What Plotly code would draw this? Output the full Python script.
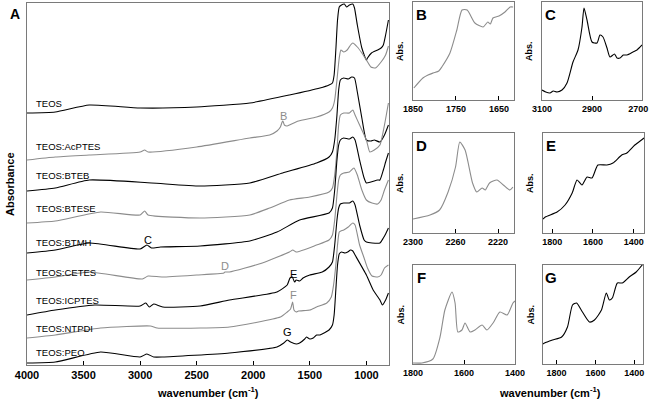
import plotly.graph_objects as go

# ---------------- main panel data (arbitrary absorbance, offset stacked) ----------------
teos_wn = [4000, 3750, 3450, 3000, 2500, 2030, 1680, 1410, 1330, 1300, 1285, 1270, 1255, 1240, 1220, 1195, 1175, 1150, 1120, 1105, 1080, 1040, 1000, 990, 955, 900, 870, 850, 830, 805]
teos_ab = [2.52, 2.53, 2.60, 2.57, 2.58, 2.62, 2.70, 2.77, 2.80, 2.82, 2.90, 3.15, 3.45, 3.58, 3.60, 3.61, 3.58, 3.60, 3.61, 3.57, 3.40, 3.17, 3.05, 3.07, 3.12, 3.15, 3.17, 3.20, 3.30, 3.45]

acptes_wn = [4000, 3750, 3450, 3000, 2960, 2930, 2500, 2030, 1855, 1790, 1760, 1745, 1738, 1725, 1700, 1680, 1600, 1440, 1330, 1300, 1280, 1260, 1240, 1225, 1200, 1170, 1140, 1120, 1080, 1040, 1000, 960, 920, 870, 830, 805]
acptes_ab = [2.05, 2.08, 2.10, 2.13, 2.15, 2.13, 2.18, 2.27, 2.30, 2.34, 2.38, 2.43, 2.44, 2.40, 2.39, 2.40, 2.44, 2.48, 2.53, 2.57, 2.65, 2.85, 3.07, 3.15, 3.13, 3.15, 3.20, 3.22, 3.18, 3.12, 3.05, 2.98, 2.97, 3.03, 3.10, 3.19]

bteb_wn = [4000, 3750, 3450, 2900, 2470, 2030, 1740, 1440, 1330, 1300, 1280, 1260, 1245, 1230, 1200, 1160, 1130, 1105, 1080, 1040, 1000, 960, 930, 880, 840, 805]
bteb_ab = [1.74, 1.77, 1.85, 1.82, 1.79, 1.82, 1.92, 2.02, 2.08, 2.13, 2.25, 2.50, 2.75, 2.85, 2.87, 2.86, 2.88, 2.87, 2.73, 2.47, 2.25, 2.24, 2.25, 2.23, 2.30, 2.40]

btese_wn = [4000, 3750, 3350, 3000, 2960, 2930, 2470, 2030, 1855, 1680, 1500, 1330, 1300, 1280, 1260, 1245, 1230, 1200, 1150, 1120, 1100, 1060, 1000, 970, 930, 880, 840, 805]
btese_ab = [1.42, 1.44, 1.53, 1.50, 1.54, 1.50, 1.47, 1.50, 1.57, 1.65, 1.68, 1.73, 1.77, 1.90, 2.15, 2.40, 2.50, 2.52, 2.52, 2.55, 2.50, 2.40, 2.25, 2.13, 2.15, 2.20, 2.40, 2.62]

btmh_wn = [4000, 3750, 3450, 3000, 2940, 2900, 2820, 2470, 2030, 1790, 1590, 1330, 1300, 1280, 1260, 1245, 1230, 1200, 1150, 1120, 1100, 1060, 1020, 1000, 960, 900, 880, 850, 830, 805]
btmh_ab = [1.12, 1.15, 1.22, 1.16, 1.20, 1.17, 1.18, 1.19, 1.24, 1.33, 1.45, 1.52, 1.57, 1.75, 2.05, 2.20, 2.25, 2.27, 2.26, 2.28, 2.25, 2.05, 1.87, 1.82, 1.83, 1.85, 1.85, 1.95, 2.03, 2.12]

cetes_wn = [4000, 3750, 3450, 2980, 2930, 2800, 2500, 2260, 2250, 2210, 1920, 1680, 1650, 1620, 1440, 1330, 1300, 1280, 1260, 1245, 1230, 1200, 1150, 1110, 1080, 1040, 1000, 950, 900, 870, 840, 805]
cetes_ab = [0.85, 0.88, 0.93, 0.86, 0.89, 0.88, 0.90, 0.92, 0.93, 0.93, 1.02, 1.13, 1.15, 1.13, 1.20, 1.25, 1.30, 1.45, 1.70, 1.85, 1.90, 1.92, 1.93, 1.97, 1.90, 1.75, 1.65, 1.62, 1.61, 1.65, 1.75, 1.85]

icptes_wn = [4000, 3750, 3400, 3000, 2950, 2920, 2880, 2800, 2470, 2210, 1790, 1700, 1675, 1655, 1635, 1620, 1590, 1560, 1500, 1390, 1330, 1300, 1280, 1260, 1245, 1230, 1200, 1150, 1120, 1100, 1060, 1020, 1000, 950, 880, 850, 830, 805]
icptes_ab = [0.50, 0.55, 0.60, 0.59, 0.62, 0.58, 0.61, 0.58, 0.59, 0.65, 0.73, 0.80, 0.87, 0.88, 0.83, 0.85, 0.84, 0.87, 0.90, 0.93, 0.98, 1.03, 1.20, 1.45, 1.57, 1.61, 1.62, 1.62, 1.64, 1.60, 1.40, 1.25, 1.23, 1.22, 1.22, 1.27, 1.31, 1.37]

ntpdi_wn = [4000, 3750, 3350, 2910, 2850, 2470, 2210, 1760, 1700, 1670, 1652, 1640, 1620, 1600, 1500, 1440, 1350, 1310, 1290, 1270, 1255, 1240, 1225, 1200, 1160, 1120, 1100, 1060, 1020, 990, 950, 900, 870, 840, 805]
ntpdi_ab = [0.27, 0.30, 0.37, 0.39, 0.37, 0.37, 0.38, 0.48, 0.53, 0.56, 0.63, 0.55, 0.53, 0.54, 0.55, 0.58, 0.62, 0.68, 0.80, 1.00, 1.20, 1.33, 1.34, 1.35, 1.38, 1.42, 1.40, 1.20, 1.07, 0.97, 0.89, 0.88, 0.90, 0.97, 1.00]

peo_wn = [4000, 3750, 3350, 3000, 2940, 2880, 2800, 2210, 1790, 1730, 1700, 1670, 1620, 1590, 1545, 1530, 1500, 1470, 1440, 1410, 1330, 1300, 1285, 1270, 1255, 1240, 1220, 1190, 1165, 1140, 1120, 1100, 1000, 940, 880, 858, 830, 805]
peo_ab = [0.02, 0.03, 0.13, 0.08, 0.11, 0.08, 0.08, 0.12, 0.18, 0.22, 0.25, 0.23, 0.21, 0.22, 0.26, 0.28, 0.26, 0.27, 0.30, 0.30, 0.35, 0.40, 0.50, 0.75, 1.00, 1.11, 1.13, 1.12, 1.13, 1.15, 1.14, 1.10, 0.90, 0.75, 0.65, 0.60, 0.65, 0.72]

sample_names = ["TEOS", "TEOS:AcPTES", "TEOS:BTEB", "TEOS:BTESE", "TEOS:BTMH",
                "TEOS:CETES", "TEOS:ICPTES", "TEOS:NTPDI", "TEOS:PEO"]

# ---------------- inset data ----------------
b_wn = [1848, 1827, 1815, 1803, 1790, 1783, 1764, 1748, 1736, 1724, 1706, 1687, 1676, 1670, 1664, 1650, 1636, 1624, 1617]
b_ab = [12, 22, 25, 27, 29, 33, 47, 70, 90, 90, 77, 73, 78, 76, 82, 84, 88, 93, 93]

c_wn = [3100, 3085, 3068, 3055, 3040, 3020, 3000, 2976, 2956, 2940, 2932, 2920, 2900, 2880, 2868, 2856, 2840, 2828, 2810, 2800, 2788, 2775, 2760, 2736, 2720, 2700]
c_ab = [10, 8, 7, 9, 8, 10, 17, 38, 50, 73, 92, 80, 58, 57, 65, 63, 52, 43, 46, 42, 42, 45, 45, 48, 50, 55]

d_wn = [2300, 2284, 2275, 2267, 2260, 2256, 2251, 2244, 2240, 2235, 2232, 2228, 2221, 2215, 2209, 2206]
d_ab = [14, 18, 23, 41, 66, 91, 83, 50, 41, 45, 43, 50, 53, 48, 43, 46]

e_wn = [1845, 1834, 1776, 1737, 1702, 1678, 1654, 1629, 1605, 1576, 1532, 1502, 1459, 1434, 1395, 1356, 1350]
e_ab = [14, 16, 21, 28, 40, 53, 48, 56, 55, 68, 68, 70, 78, 80, 88, 94, 95]

f_wn = [1800, 1765, 1722, 1694, 1675, 1647, 1635, 1624, 1608, 1596, 1576, 1557, 1529, 1510, 1486, 1459, 1431, 1408, 1400]
f_ab = [1, 1, 5, 27, 54, 72, 61, 32, 34, 41, 32, 34, 39, 34, 41, 52, 49, 61, 63]

g_wn = [1870, 1862, 1821, 1774, 1744, 1718, 1697, 1667, 1631, 1605, 1569, 1544, 1528, 1513, 1487, 1462, 1426, 1390, 1359, 1355]
g_ab = [20, 21, 24, 27, 37, 59, 61, 52, 42, 44, 54, 71, 64, 66, 81, 81, 87, 92, 99, 100]

main_ticks = [4000, 3500, 3000, 2500, 2000, 1500, 1000]

# ---------------- figure geometry ----------------
W, H = 651, 400
FONT = "Liberation Sans, Arial, Helvetica, sans-serif"
BLACK = "#000000"
GRAY = "#8c8c8c"
FRAME = "#7a7a7a"


def fx(p):
    return p / W


def fy(p):
    return 1 - p / H


fig = go.Figure()

series = [
    (teos_wn, teos_ab, BLACK), (acptes_wn, acptes_ab, GRAY), (bteb_wn, bteb_ab, BLACK),
    (btese_wn, btese_ab, GRAY), (btmh_wn, btmh_ab, BLACK), (cetes_wn, cetes_ab, GRAY),
    (icptes_wn, icptes_ab, BLACK), (ntpdi_wn, ntpdi_ab, GRAY), (peo_wn, peo_ab, BLACK),
]
for (wn, ab, col), name in zip(series, sample_names):
    fig.add_trace(go.Scatter(x=wn, y=ab, mode="lines", name=name,
                             line=dict(color=col, width=1.1, shape="spline", smoothing=0.5),
                             xaxis="x", yaxis="y"))

insets = [
    ("x2", "y2", b_wn, b_ab, GRAY),
    ("x3", "y3", c_wn, c_ab, BLACK),
    ("x4", "y4", d_wn, d_ab, GRAY),
    ("x5", "y5", e_wn, e_ab, BLACK),
    ("x6", "y6", f_wn, f_ab, GRAY),
    ("x7", "y7", g_wn, g_ab, BLACK),
]
for xa, ya, wn, ab, col in insets:
    fig.add_trace(go.Scatter(x=wn, y=ab, mode="lines",
                             line=dict(color=col, width=1.1, shape="spline", smoothing=0.6),
                             xaxis=xa, yaxis=ya, showlegend=False))

tickfont_main = dict(family=FONT, size=11, color="black", weight="bold")
tickfont_ins = dict(family=FONT, size=9, color="black", weight="bold")


def xax(domain, rng, tickvals, font, ticktext=None):
    d = dict(domain=domain, range=rng, tickvals=tickvals, ticks="inside", ticklen=4,
             tickcolor="black", showline=True, mirror=True, linecolor=FRAME, linewidth=1,
             showgrid=False, zeroline=False, tickfont=font, automargin=False,
             ticklabeloverflow="allow")
    if ticktext is not None:
        d["ticktext"] = ticktext
    return d


def yax(domain, rng, anchor):
    return dict(domain=domain, range=rng, showticklabels=False, ticks="", showline=True,
                mirror=True, linecolor=FRAME, linewidth=1, showgrid=False, zeroline=False,
                anchor=anchor, automargin=False)


layout = dict(
    width=W, height=H, margin=dict(l=0, r=0, t=0, b=0, autoexpand=False),
    paper_bgcolor="white", plot_bgcolor="white", showlegend=False,
    font=dict(family=FONT, color="black"),
)
layout["xaxis"] = xax([fx(27), fx(389)], [4000, 800], main_ticks, tickfont_main)
layout["yaxis"] = yax([fy(365), fy(3)], [0, 3.62], "x")
layout["xaxis"]["anchor"] = "y"

# inset boxes: (x0, x1, ytop, ybottom, range, ticks, yrange)
boxes = [
    (413, 514, 2, 100, [1850, 1615], [1850, 1750, 1650], 98),
    (542, 642, 2, 100, [3100, 2700], [3100, 2900, 2700], 98),
    (413, 514, 133, 233, [2300, 2205], [2300, 2260, 2220], 100),
    (543, 644, 133, 233, [1845, 1350], [1800, 1600, 1400], 100),
    (413, 515, 265, 364, [1800, 1400], [1800, 1600, 1400], 99),
    (543, 643, 265, 364, [1870, 1355], [1800, 1600, 1400], 99),
]
for i, (x0, x1, yt, yb, rng, tv, yr) in enumerate(boxes):
    n = i + 2
    tt = [str(v) for v in tv]
    if n == 3:
        tt[-1] = "2700&nbsp;&nbsp;&nbsp;"
    xa = xax([fx(x0), fx(x1)], rng, tv, tickfont_ins, ticktext=tt)
    xa["anchor"] = f"y{n}"
    layout[f"xaxis{n}"] = xa
    layout[f"yaxis{n}"] = yax([fy(yb), fy(yt)], [0, yr], f"x{n}")

fig.update_layout(**layout)

ann = []


def text(x, y, s, size, color="black", bold=False, xanchor="center", angle=0):
    ann.append(dict(x=fx(x), y=fy(y), xref="paper", yref="paper", text=s, showarrow=False,
                    xanchor=xanchor, yanchor="middle", textangle=angle,
                    font=dict(family=FONT, size=size, color=color,
                              weight="bold" if bold else "normal")))


# sample labels
label_y = [103, 147, 175, 208, 242, 272, 300, 328, 352]
for name, yy in zip(sample_names, label_y):
    text(34, yy, name, 9.5, xanchor="left")

# feature letters
text(283, 116, "B", 11, GRAY)
text(148, 240, "C", 11, BLACK)
text(225, 266, "D", 11, GRAY)
text(293, 274, "E", 11, BLACK)
text(293, 295, "F", 11, GRAY)
text(287, 332, "G", 11, BLACK)

# panel letters
text(15, 14, "A", 14, bold=True)
for (x0, x1, yt, yb, *_), letter in zip(boxes, "BCDEFG"):
    text(x0 + 8, yt + 12, letter, 15, bold=True)
    text(x0 - 13, (yt + yb) / 2, "Abs.", 9, bold=True, angle=-90)

# axis titles
text(10, 184, "Absorbance", 11, bold=True, angle=-90)
text(208, 392, "wavenumber (cm<sup>-1</sup>)", 11, bold=True)
text(550, 392, "wavenumber (cm<sup>-1</sup>)", 11, bold=True)

fig.update_layout(annotations=ann)
fig.write_html("out.html", config={"displayModeBar": False},
               post_script="document.body.style.margin='0px';")
